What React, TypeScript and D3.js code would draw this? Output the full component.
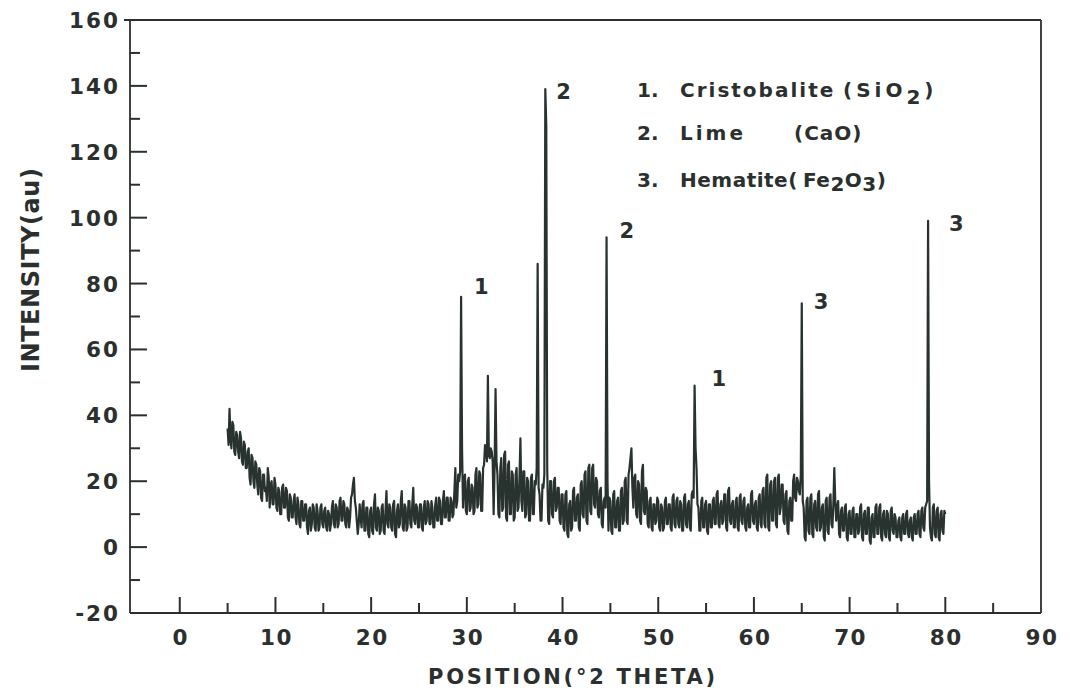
import React from "react";
import * as d3 from "d3";

// XRD scan: 2θ from 5° to 80° in 0.1° steps (one row per degree)
const START_ANGLE = 5;
const STEP = 0.1;
const intensity: number[] = [
  36, 31, 42, 33, 30, 38, 37, 29, 28, 35, // 5
  34, 29, 27, 35, 33, 26, 25, 32, 31, 24, // 6
  24, 29, 30, 21, 19, 28, 27, 20, 18, 26, // 7
  25, 19, 16, 24, 23, 15, 14, 22, 22, 17, // 8
  18, 14, 24, 21, 12, 19, 20, 13, 13, 21, // 9
  19, 12, 11, 18, 17, 10, 10, 18, 19, 12, // 10
  12, 18, 17, 9, 8, 16, 15, 9, 9, 14, // 11
  16, 9, 7, 15, 13, 7, 6, 14, 14, 8, // 12
  8, 13, 13, 6, 4, 11, 12, 5, 7, 13, // 13
  12, 6, 5, 13, 11, 5, 6, 12, 13, 7, // 14
  6, 11, 12, 6, 5, 11, 10, 5, 7, 12, // 15
  14, 7, 6, 13, 12, 6, 7, 14, 15, 8, // 16
  8, 14, 13, 7, 6, 12, 11, 6, 9, 15, // 17
  16, 19, 21, 14, 12, 8, 4, 7, 13, 9, // 18
  6, 13, 14, 5, 5, 12, 12, 4, 3, 11, // 19
  12, 5, 4, 13, 16, 6, 5, 12, 11, 4, // 20
  5, 12, 13, 5, 4, 11, 17, 7, 6, 13, // 21
  12, 6, 5, 13, 14, 4, 3, 11, 13, 6, // 22
  7, 14, 17, 6, 5, 13, 12, 5, 6, 14, // 23
  14, 7, 6, 13, 18, 8, 7, 13, 12, 6, // 24
  6, 13, 13, 6, 5, 12, 14, 7, 8, 14, // 25
  13, 7, 7, 14, 12, 6, 6, 13, 15, 8, // 26
  8, 15, 14, 7, 7, 14, 17, 9, 9, 15, // 27
  15, 8, 8, 15, 14, 9, 10, 17, 24, 12, // 28
  14, 22, 20, 23, 76, 30, 12, 20, 22, 11, // 29
  10, 20, 21, 11, 12, 19, 18, 10, 11, 22, // 30
  24, 12, 13, 23, 22, 11, 11, 24, 25, 31, // 31
  30, 26, 52, 28, 27, 30, 29, 26, 10, 24, // 32
  48, 26, 22, 10, 9, 24, 27, 11, 12, 28, // 33
  29, 9, 8, 25, 26, 10, 10, 23, 22, 8, // 34
  9, 22, 24, 11, 12, 21, 33, 14, 11, 23, // 35
  23, 9, 10, 21, 20, 8, 8, 21, 22, 10, // 36
  10, 20, 19, 24, 86, 18, 16, 8, 8, 19, // 37
  18, 22, 139, 128, 24, 8, 7, 20, 20, 10, // 38
  9, 20, 21, 11, 12, 18, 18, 8, 7, 16, // 39
  16, 6, 5, 16, 17, 4, 3, 13, 14, 5, // 40
  6, 17, 18, 8, 8, 15, 16, 6, 5, 19, // 41
  20, 10, 9, 22, 23, 8, 7, 24, 25, 11, // 42
  10, 24, 25, 13, 12, 21, 20, 10, 9, 17, // 43
  18, 7, 6, 14, 15, 12, 94, 20, 5, 15, // 44
  14, 5, 4, 16, 17, 6, 6, 14, 15, 5, // 45
  5, 17, 18, 7, 8, 20, 21, 8, 7, 22, // 46
  24, 27, 30, 18, 12, 21, 22, 10, 9, 20, // 47
  19, 8, 7, 23, 25, 11, 10, 18, 17, 7, // 48
  6, 14, 15, 6, 5, 13, 13, 7, 8, 15, // 49
  14, 6, 5, 13, 12, 5, 6, 14, 15, 7, // 50
  7, 13, 13, 6, 5, 15, 16, 7, 6, 14, // 51
  15, 7, 6, 14, 13, 5, 5, 15, 16, 7, // 52
  6, 13, 14, 6, 5, 16, 17, 15, 49, 30, // 53
  24, 13, 12, 5, 5, 14, 15, 6, 6, 13, // 54
  14, 5, 4, 13, 13, 6, 6, 14, 15, 7, // 55
  7, 16, 17, 7, 6, 13, 14, 7, 8, 16, // 56
  16, 6, 5, 17, 18, 8, 7, 13, 14, 6, // 57
  6, 14, 15, 6, 5, 15, 16, 8, 7, 14, // 58
  15, 6, 5, 12, 13, 6, 6, 16, 17, 8, // 59
  7, 13, 14, 6, 5, 15, 16, 7, 6, 17, // 60
  18, 7, 6, 21, 22, 6, 5, 19, 20, 8, // 61
  8, 20, 21, 7, 6, 21, 22, 10, 12, 19, // 62
  19, 8, 7, 16, 17, 5, 4, 14, 15, 8, // 63
  8, 20, 22, 15, 14, 21, 20, 17, 16, 22, // 64
  74, 14, 12, 3, 2, 14, 15, 5, 4, 15, // 65
  16, 4, 3, 13, 14, 6, 5, 16, 17, 5, // 66
  6, 12, 13, 3, 2, 14, 15, 5, 4, 15, // 67
  16, 7, 6, 13, 24, 14, 8, 12, 14, 4, // 68
  3, 11, 12, 5, 5, 12, 13, 3, 2, 10, // 69
  11, 4, 4, 11, 12, 3, 3, 10, 10, 4, // 70
  5, 12, 13, 3, 2, 10, 11, 4, 4, 12, // 71
  12, 2, 1, 9, 10, 3, 3, 12, 13, 4, // 72
  4, 12, 13, 3, 2, 10, 11, 4, 3, 11, // 73
  10, 3, 2, 11, 12, 5, 4, 10, 9, 3, // 74
  3, 8, 9, 3, 2, 9, 10, 4, 4, 10, // 75
  11, 4, 3, 8, 9, 3, 2, 9, 10, 4, // 76
  4, 10, 11, 4, 3, 11, 12, 6, 5, 12, // 77
  13, 14, 99, 20, 6, 3, 2, 12, 13, 4, // 78
  3, 11, 12, 3, 2, 10, 11, 5, 4, 11, // 79
  10, // 80
];

// Identified reflections (phase number per peak)
const peakAngles = [29.4, 38.2, 44.6, 53.8, 65.0, 78.2];
const peakPhase = ["1", "2", "2", "1", "3", "3"];
const peakLabelDx = [13, 11, 13, 17, 12, 21];
const peakLabelDy = [-3, 10, 1, 0, 6, 10];

const xTicks = [0, 10, 20, 30, 40, 50, 60, 70, 80, 90];
const xMinorTicks = [5, 15, 25, 35, 45, 55, 65, 75, 85];
const yTicks = [-20, 0, 20, 40, 60, 80, 100, 120, 140, 160];
const yMinorTicks = [-10, 10, 30, 50, 70, 90, 110, 130, 150];

const W = 1070;
const H = 699;
const left = 130;
const right = 1041;
const top = 20;
const bottom = 613;

const INK = "#2b302e";
const TRACE = "#28322f";
const FONT = "'DejaVu Sans', 'Noto Sans', sans-serif";

export default function App() {
  const x = d3.scaleLinear().domain([-5.2, 90]).range([left, right]);
  const y = d3.scaleLinear().domain([-20, 160]).range([bottom, top]);

  const points: [number, number][] = intensity.map((v, i) => [
    START_ANGLE + i * STEP,
    v,
  ]);
  const line = d3
    .line<[number, number]>()
    .x((d) => x(d[0]))
    .y((d) => y(d[1]));

  const peakValue = (a: number) =>
    intensity[Math.round((a - START_ANGLE) / STEP)];

  const textStyle = {
    fontFamily: FONT,
    fontWeight: 700,
    fill: INK,
  } as const;

  return (
    <div style={{ position: "absolute", left: 0, top: 0 }}>
      <svg width={W} height={H} viewBox={`0 0 ${W} ${H}`} style={{ display: "block", background: "#fff" }}>
        {/* frame */}
        <g stroke={INK} strokeWidth={1.8} fill="none">
          <line x1={left - 6} y1={top} x2={right} y2={top} />
          <line x1={left} y1={top} x2={left} y2={bottom} />
          <line x1={right} y1={top} x2={right} y2={bottom} />
          <line x1={left} y1={bottom} x2={right} y2={bottom} />
        </g>

        {/* y ticks (inside) */}
        <g stroke={INK} strokeWidth={2}>
          {yTicks.filter((t) => t > -20 && t < 160).map((t) => (
            <line key={"ym" + t} x1={left} x2={left + 17} y1={y(t)} y2={y(t)} />
          ))}
          {yMinorTicks.map((t) => (
            <line key={"yn" + t} x1={left} x2={left + 10} y1={y(t)} y2={y(t)} />
          ))}
        </g>
        <g {...textStyle} fontSize={21.5} letterSpacing={2} textAnchor="end">
          {yTicks.map((t) => (
            <text key={"yl" + t} x={left - 10} y={y(t) + 8}>
              {t}
            </text>
          ))}
        </g>

        {/* x ticks (inside) */}
        <g stroke={INK} strokeWidth={2}>
          {xTicks.filter((t) => t < 90).map((t) => (
            <line key={"xm" + t} x1={x(t)} x2={x(t)} y1={bottom} y2={bottom - 16} />
          ))}
          {xMinorTicks.map((t) => (
            <line key={"xn" + t} x1={x(t)} x2={x(t)} y1={bottom} y2={bottom - 10} />
          ))}
        </g>
        <g {...textStyle} fontSize={21.5} letterSpacing={1.5} textAnchor="middle">
          {xTicks.map((t) => (
            <text key={"xl" + t} x={x(t) + 1} y={645}>
              {t}
            </text>
          ))}
        </g>

        {/* axis titles */}
        <text
          {...textStyle}
          fontSize={21}
          x={428}
          y={684}
          textLength={287}
          lengthAdjust="spacing"
        >
          POSITION(°2 THETA)
        </text>
        <text
          {...textStyle}
          fontSize={24}
          textLength={204}
          lengthAdjust="spacing"
          transform={`translate(39,372) rotate(-90)`}
        >
          INTENSITY(au)
        </text>

        {/* diffraction trace */}
        <path
          d={line(points) ?? ""}
          fill="none"
          stroke={TRACE}
          strokeWidth={2.2}
          strokeLinejoin="round"
        />

        {/* peak phase labels */}
        <g {...textStyle} fontSize={21}>
          {peakAngles.map((a, i) => (
            <text
              key={"pk" + i}
              x={x(a) + peakLabelDx[i]}
              y={y(peakValue(a)) + peakLabelDy[i]}
            >
              {peakPhase[i]}
            </text>
          ))}
        </g>

        {/* phase key */}
        <g {...textStyle} fontSize={20}>
          <text x={637} y={97}>1.</text>
          <text x={680} y={97} letterSpacing={2}>
            Cristobalite
          </text>
          <text x={843} y={97} letterSpacing={4}>
            (SiO<tspan dy={7}>2</tspan>
            <tspan dy={-7}>)</tspan>
          </text>
          <text x={637} y={140}>2.</text>
          <text x={680} y={140} letterSpacing={3}>
            Lime
          </text>
          <text x={794} y={140} letterSpacing={1}>
            (CaO)
          </text>
          <text x={637} y={187}>3.</text>
          <text x={680} y={187} letterSpacing={0.5}>
            Hematite(
          </text>
          <text x={803} y={187} letterSpacing={0.5}>
            Fe<tspan dy={4}>2</tspan>
            <tspan dy={-4}>O</tspan>
            <tspan dy={4}>3</tspan>
            <tspan dy={-4}>)</tspan>
          </text>
        </g>
      </svg>
    </div>
  );
}
